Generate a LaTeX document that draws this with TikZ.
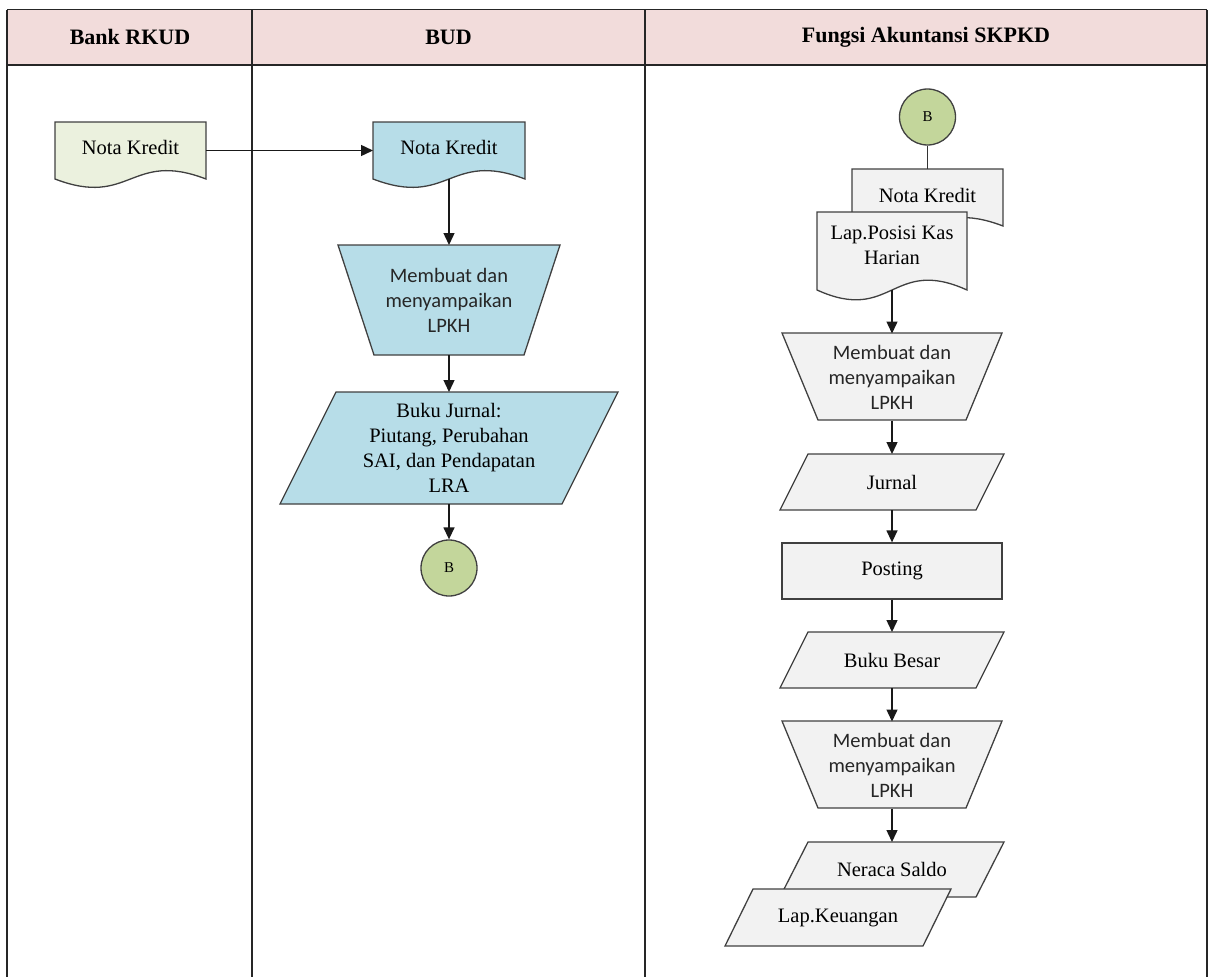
\documentclass[tikz,border=0pt]{standalone}
\usepackage{fontspec}
\setmainfont{Liberation Serif}
\newfontfamily\calibfont{Carlito}
\usetikzlibrary{arrows.meta}

\definecolor{headfill}{HTML}{F2DCDB}
\definecolor{bankfill}{HTML}{EBF1DE}
\definecolor{budfill}{HTML}{B7DDE8}
\definecolor{connfill}{HTML}{C3D69B}
\definecolor{akfill}{HTML}{F2F2F2}
\definecolor{edge}{HTML}{404040}
\definecolor{gridline}{HTML}{262626}

\tikzset{
  lane/.style={draw=gridline, line width=1.6pt},
  outline/.style={draw=edge, line width=1.3pt, line join=miter},
  anchorbox/.style={inner sep=0pt, outer sep=0pt},
  sertext/.style={font=\fontsize{20.5}{25}\selectfont, align=center, text=black, inner sep=0pt},
  santext/.style={font=\calibfont\fontsize{20.5}{25}\selectfont, align=center, text=black!85, inner sep=0pt},
  headtext/.style={font=\bfseries\fontsize{22}{26}\selectfont, inner sep=0pt},
  flow/.style={draw=black!90, line width=1.4pt, -{Triangle[length=12pt,width=11pt]}},
  link/.style={draw=black!80, line width=1.4pt},
  conncircle/.style={circle, outline, fill=connfill, minimum size=56pt, inner sep=0pt,
                     font=\fontsize{15}{17}\selectfont},
}

\begin{document}
\begin{tikzpicture}[x=1pt,y=-1pt]
\useasboundingbox (0,0) rectangle (1210,977);

% swimlane table
\fill[headfill] (7,9.5) rectangle (1207,65);
\draw[lane] (7,9.5) -- (1207,9.5);
\draw[lane] (7,65) -- (1207,65);
\draw[lane] (7,9.5) -- (7,980);
\draw[lane] (252,9.5) -- (252,980);
\draw[lane] (645,9.5) -- (645,980);
\draw[lane] (1207,9.5) -- (1207,980);
\node[headtext] (hbank) at (130,37) {Bank RKUD};
\node[headtext] (hbud) at (448.5,37) {BUD};
\node[headtext] (hak) at (926,37) {Fungsi Akuntansi SKPKD};

% ---- Bank RKUD ----
\path[outline, fill=bankfill] (55,122) -- (206,122) -- (206,179)
  .. controls (130.5,150) and (130.5,208) .. (55,179) -- cycle;
\node[anchorbox, minimum width=151pt, minimum height=57pt] (nk1) at (130.5,150.5) {};
\node[sertext] (nk1t) at (130.5,147) {Nota Kredit};

% ---- BUD ----
\path[outline, fill=budfill] (373,122) -- (525,122) -- (525,179)
  .. controls (449,150) and (449,208) .. (373,179) -- cycle;
\node[anchorbox, minimum width=152pt, minimum height=57pt] (nk2) at (449,150.5) {};
\node[sertext] (nk2t) at (449,147) {Nota Kredit};

\path[outline, fill=budfill] (338,245) -- (560,245) -- (524,355) -- (374,355) -- cycle;
\node[anchorbox, santext, minimum width=222pt, minimum height=110pt] (lpkh1) at (449,300)
  {Membuat dan\\menyampaikan\\LPKH};

\path[outline, fill=budfill] (336,392) -- (618,392) -- (562,504) -- (280,504) -- cycle;
\node[anchorbox, sertext, minimum width=282pt, minimum height=112pt] (bj) at (449,448)
  {Buku Jurnal:\\Piutang, Perubahan\\SAI, dan Pendapatan\\LRA};

\node[conncircle] (b1) at (449,568) {B};

% ---- Fungsi Akuntansi SKPKD ----
\node[conncircle] (b2) at (927.5,117) {B};

\path[outline, fill=akfill] (852,169) -- (1003,169) -- (1003,226)
  .. controls (927.5,197) and (927.5,255) .. (852,226) -- cycle;
\node[anchorbox, minimum width=151pt, minimum height=57pt] (nk3) at (927.5,197.5) {};
\node[sertext] (nk3t) at (927.5,195) {Nota Kredit};

\path[outline, fill=akfill] (817,212) -- (967,212) -- (967,290)
  .. controls (892,256) and (892,324) .. (817,290) -- cycle;
\node[anchorbox, minimum width=150pt, minimum height=78pt] (lpk) at (892,251) {};
\node[sertext] (lpkt) at (892,245.5) {Lap.Posisi Kas\\Harian};

\path[outline, fill=akfill] (782,333) -- (1002,333) -- (966,420) -- (818,420) -- cycle;
\node[anchorbox, santext, minimum width=220pt, minimum height=87pt] (lpkh2) at (892,377)
  {Membuat dan\\menyampaikan\\LPKH};

\path[outline, fill=akfill] (808,454) -- (1004,454) -- (976,510) -- (780,510) -- cycle;
\node[anchorbox, sertext, minimum width=196pt, minimum height=56pt] (jur) at (892,482) {Jurnal};

\node[outline, fill=akfill, rectangle, sertext, minimum width=220pt, minimum height=56pt]
  (post) at (892,571) {Posting};

\path[outline, fill=akfill] (808,632) -- (1004,632) -- (976,688) -- (780,688) -- cycle;
\node[anchorbox, sertext, minimum width=196pt, minimum height=56pt] (bb) at (892,660) {Buku Besar};

\path[outline, fill=akfill] (782,721) -- (1002,721) -- (966,808) -- (818,808) -- cycle;
\node[anchorbox, santext, minimum width=220pt, minimum height=87pt] (lpkh3) at (892,765)
  {Membuat dan\\menyampaikan\\LPKH};

\path[outline, fill=akfill] (808,842) -- (1004,842) -- (976,897) -- (780,897) -- cycle;
\node[anchorbox, sertext, minimum width=196pt, minimum height=55pt] (ns) at (892,869.5) {Neraca Saldo};

\path[outline, fill=akfill] (753,889) -- (951,889) -- (923,946) -- (725,946) -- cycle;
\node[anchorbox, sertext, minimum width=198pt, minimum height=57pt] (lk) at (838,917.5) {Lap.Keuangan};

% ---- connectors ----
\draw[flow] (nk1.east) -- (nk2.west);
\draw[flow] (nk2.south) -- (lpkh1.north);
\draw[flow] (lpkh1.south) -- (bj.north);
\draw[flow] (bj.south) -- (b1.north);
\draw[link] (b2.south) -- (nk3.north);
\draw[flow] (lpk.south) -- (lpkh2.north);
\draw[flow] (lpkh2.south) -- (jur.north);
\draw[flow] (jur.south) -- (post.north);
\draw[flow] (post.south) -- (bb.north);
\draw[flow] (bb.south) -- (lpkh3.north);
\draw[flow] (lpkh3.south) -- (ns.north);
\end{tikzpicture}
\end{document}
